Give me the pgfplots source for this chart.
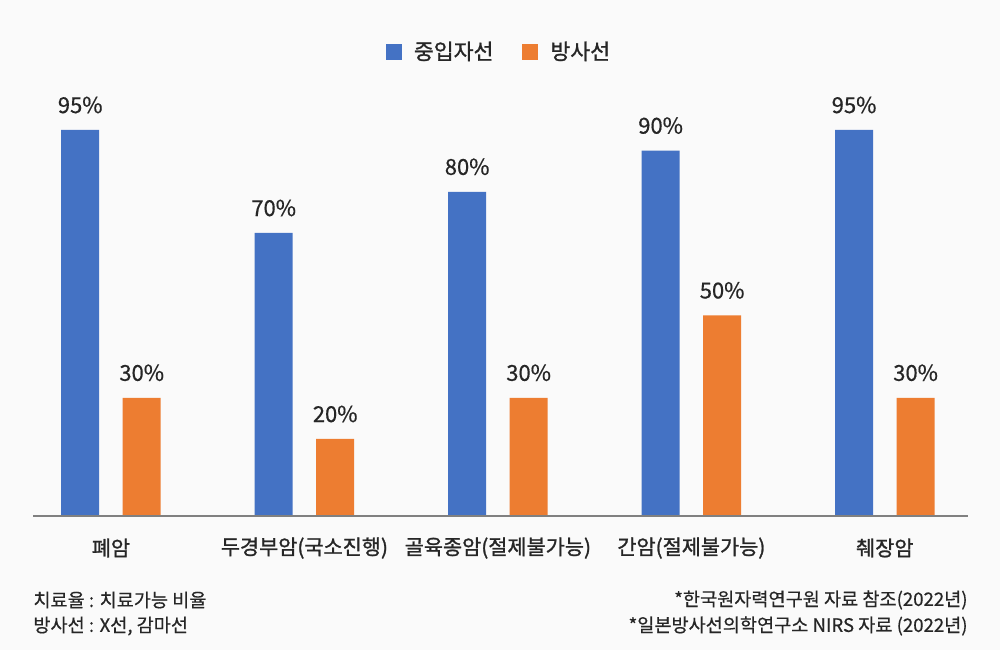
\documentclass[border=0pt]{standalone}
\usepackage{pgfplots}
\pgfplotsset{compat=1.18}
\usepackage{fontspec}
\setmainfont{Noto Sans CJK KR}
\newfontfamily\medfont{Noto Sans CJK KR}[FakeBold=1.2]
\newfontfamily\semifont{Noto Sans CJK KR}[FakeBold=0.5]

\definecolor{bgc}{HTML}{FAFAFA}
\definecolor{txt}{HTML}{262626}
\definecolor{heavy}{HTML}{4472C4}
\definecolor{photon}{HTML}{ED7D31}
\definecolor{axgray}{HTML}{808080}

\begin{document}
\begin{tikzpicture}
  % page: 1000 x 650 px at 0.5pt per px
  \fill[bgc] (0,0) rectangle (500pt,325pt);
  \path[use as bounding box] (0,0) rectangle (500pt,325pt);

  \begin{axis}[
      at={(16.5pt,67pt)}, anchor=south west,
      scale only axis,
      width=467.5pt, height=203.5pt,
      xmin=-0.403, xmax=4.43,
      ymin=1.3, ymax=100.1,
      axis x line=bottom, axis y line=none,
      x axis line style={axgray, line width=1.25pt, -},
      axis on top,
      ybar=11.75pt, bar width=19pt,
      xtick=data,
      xticklabels={폐암, 두경부암(국소진행), 골육종암(절제불가능), 간암(절제불가능), 췌장암},
      major tick length=0pt,
      xticklabel style={font=\medfont\fontsize{10.4}{12}\selectfont, text=txt, anchor=center, yshift=-16pt},
      nodes near coords={\pgfmathprintnumber{\pgfplotspointmeta}\%},
      every node near coord/.append style={font=\semifont\fontsize{11}{13}\selectfont, text=txt, anchor=center, yshift=12.5pt},
      /pgf/number format/assume math mode=true,
      legend columns=2,
      legend style={at={(0.4995,1.14)}, anchor=center, draw=none, fill=none,
                    font=\medfont\fontsize{10.8}{12}\selectfont, text=txt,
                    /tikz/every odd column/.append style={column sep=4pt},
                    /tikz/every even column/.append style={column sep=12.5pt}},
      legend image code/.code={\fill[#1] (0pt,-4pt) rectangle (8pt,4pt);},
    ]
    \addplot[fill=heavy, draw=none] coordinates {(0,95) (1,70) (2,80) (3,90) (4,95)};
    \addplot[fill=photon, draw=none] coordinates {(0,30) (1,20) (2,30) (3,50) (4,30)};
    \legend{중입자선, 방사선}
  \end{axis}

  \begin{scope}[every node/.style={text=txt, font=\semifont\fontsize{9.3}{11}\selectfont, inner sep=0pt}]
    \node[anchor=west] at (16.5pt,25pt) {치료율 : 치료가능 비율};
    \node[anchor=west] at (16.5pt,12pt) {방사선 : X선, 감마선};
    \node[anchor=east] at (484pt,25pt) {*한국원자력연구원 자료 참조(2022년)};
    \node[anchor=east] at (484pt,12pt) {*일본방사선의학연구소 NIRS 자료 (2022년)};
  \end{scope}
\end{tikzpicture}
\end{document}
